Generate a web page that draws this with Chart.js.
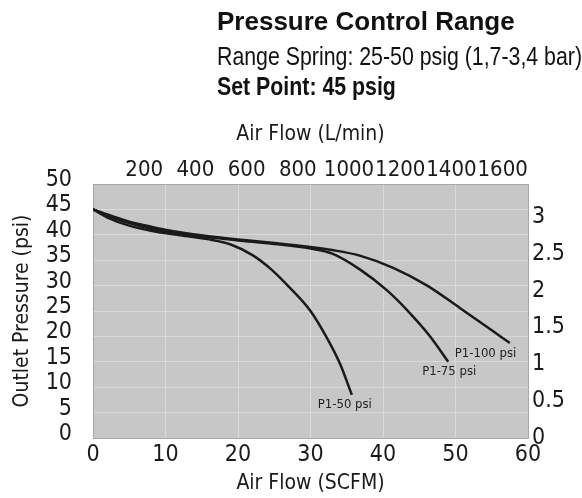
<!DOCTYPE html>
<html>
<head>
<meta charset="utf-8">
<script src="https://cdn.jsdelivr.net/npm/chart.js@4/dist/chart.umd.min.js"></script>
<style>
  body { margin: 0; background: #fff; }
  #wrap { position: relative; width: 582px; height: 498px; overflow: hidden; }
  canvas { position: absolute; left: 0; top: 0; }
  .hd { position: absolute; left: 217px; white-space: nowrap; color: #111; line-height: 1; }
  #t1 { top: 6px; font: bold 26px "Liberation Sans", Arial, sans-serif; }
  /* condensed look: narrow the regular face */
  #t2, #t3 { transform: scaleX(0.82); transform-origin: 0 0; }
  #t2 { top: 41px; font: 26px "Liberation Sans", Arial, sans-serif; }
  #t3 { top: 71px; font: bold 26px "Liberation Sans", Arial, sans-serif; }
</style>
</head>
<body>
<div id="wrap">
  <canvas id="chart" width="582" height="498"></canvas>
  <div class="hd" id="t1">Pressure Control Range</div>
  <div class="hd" id="t2">Range Spring: 25-50 psig (1,7-3,4 bar)</div>
  <div class="hd" id="t3">Set Point: 45 psig</div>
</div>
<script>
// air flow (SCFM) vs outlet pressure (psi), one pair of arrays per inlet pressure
let flow50 = [0, 2, 5, 8, 12, 16, 19, 22, 24.5, 27, 30, 32.3, 34.1, 35.7];
let psi50 = [45, 43.4, 41.8, 40.8, 39.9, 39.1, 38.1, 36, 33.3, 29.8, 25, 19.6, 14.5, 8.5];
let flow75 = [0, 2, 5, 8, 12, 16, 20, 25, 30, 33, 36.8, 40.6, 43.7, 46.5, 49];
let psi75 = [45, 43.8, 42.3, 41.2, 40.2, 39.5, 38.9, 38.2, 37.3, 36.3, 33.2, 29, 24.6, 20, 15];
let flow100 = [0, 2, 5, 8, 12, 16, 20, 25, 30, 33, 36.8, 41.4, 46.1, 50.6, 55.2, 57.5];
let psi100 = [45, 44, 42.6, 41.6, 40.5, 39.7, 39.1, 38.4, 37.6, 37, 35.9, 33.5, 30, 25.6, 21, 18.7];

let curveNames = ["P1-50 psi", "P1-75 psi", "P1-100 psi"];
// where each curve name sits, in SCFM / psi
let nameFlow = [31, 45.4, 49.9];
let namePsi = [6.5, 13.1, 16.7];

let topTicks = [200, 400, 600, 800, 1000, 1200, 1400, 1600]; // L/min
let barTicks = [0, 0.5, 1, 1.5, 2, 2.5, 3];
let maxFlow = 60, maxPsi = 50;
let lpmPerScfm = 28.317, psiPerBar = 14.5038;

function pts(xs, ys) {
  return xs.map((x, i) => ({ x: x, y: ys[i] }));
}

let narrow = "'DejaVu Sans Condensed', 'Liberation Sans Narrow', sans-serif";
let tickFont = { family: narrow, size: 23 };
let topFont = { family: narrow, size: 22 };
let titleFont = { family: narrow, size: 21 };
let ink = "#1a1a1a";
let plain = (v) => String(v);

let plotBg = {
  id: "plotBg",
  beforeDraw(chart) {
    let a = chart.chartArea, c = chart.ctx;
    c.save();
    c.fillStyle = "#c7c7c7";
    c.fillRect(a.left, a.top, a.right - a.left, a.bottom - a.top);
    c.restore();
  },
  afterDatasetsDraw(chart) {
    let c = chart.ctx, sx = chart.scales.x, sy = chart.scales.y;
    c.save();
    c.font = "13px " + narrow;
    c.fillStyle = "#222";
    c.textBaseline = "middle";
    c.textAlign = "left";
    curveNames.forEach((n, i) => {
      c.fillText(n, sx.getPixelForValue(nameFlow[i]), sy.getPixelForValue(namePsi[i]));
    });
    c.restore();
  },
};

let line = (label, data) => ({
  label: label,
  data: data,
  borderColor: ink,
  borderWidth: 2.5,
  pointRadius: 0,
  cubicInterpolationMode: "monotone",
  xAxisID: "x",
  yAxisID: "y",
});

new Chart(document.getElementById("chart"), {
  type: "line",
  data: {
    datasets: [
      line(curveNames[0], pts(flow50, psi50)),
      line(curveNames[1], pts(flow75, psi75)),
      line(curveNames[2], pts(flow100, psi100)),
    ],
  },
  options: {
    responsive: false,
    animation: false,
    devicePixelRatio: 1,
    layout: { padding: 0 },
    plugins: { legend: { display: false }, tooltip: { enabled: false } },
    scales: {
      x: {
        type: "linear", position: "bottom", min: 0, max: maxFlow,
        ticks: { stepSize: 10, font: tickFont, color: ink, padding: 3, maxRotation: 0, callback: plain },
        grid: { color: "#dadada", drawTicks: false },
        border: { color: "#a8a8a8" },
        title: { display: true, text: "Air Flow (SCFM)", font: titleFont, color: ink, padding: { top: 0, bottom: 2 } },
        afterFit: (s) => { s.height = 60; },
      },
      x2: {
        type: "linear", position: "top", min: 0, max: maxFlow * lpmPerScfm,
        afterBuildTicks: (s) => { s.ticks = topTicks.map((v) => ({ value: v })); },
        ticks: { font: topFont, color: ink, padding: 1, autoSkip: false, maxRotation: 0, callback: plain },
        grid: { display: false, drawTicks: false },
        border: { color: "#a8a8a8" },
        title: { display: true, text: "Air Flow (L/min)", font: titleFont, color: ink, padding: { top: 122, bottom: 0 } },
        afterFit: (s) => { s.height = 184; },
      },
      y: {
        type: "linear", position: "left", min: 0, max: maxPsi,
        ticks: { stepSize: 5, font: tickFont, color: ink, padding: 21, autoSkip: false, labelOffset: -4, callback: plain },
        grid: { color: "#dadada", drawTicks: false },
        border: { color: "#a8a8a8" },
        title: { display: true, text: "Outlet Pressure (psi)", font: titleFont, color: ink, padding: { top: 10, bottom: 0 } },
        afterFit: (s) => { s.width = 93; },
      },
      y2: {
        type: "linear", position: "right", min: 0, max: maxPsi / psiPerBar,
        afterBuildTicks: (s) => { s.ticks = barTicks.map((v) => ({ value: v })); },
        ticks: { font: tickFont, color: ink, padding: 4, autoSkip: false, callback: plain },
        grid: { display: false, drawTicks: false },
        border: { color: "#a8a8a8" },
        afterFit: (s) => { s.width = 54; },
      },
    },
  },
  plugins: [plotBg],
});
</script>
</body>
</html>
